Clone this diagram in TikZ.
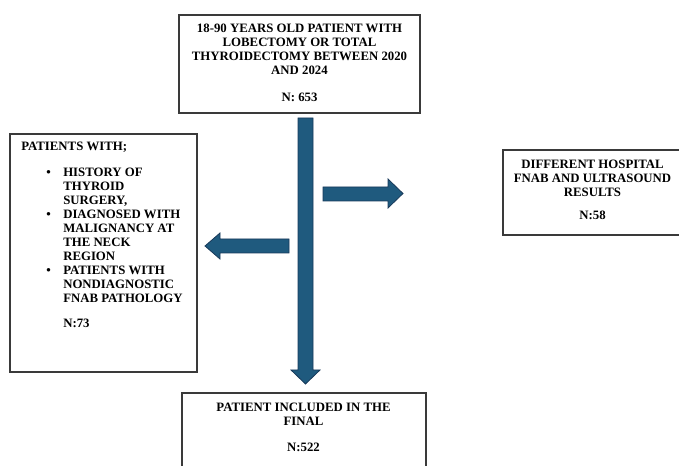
\documentclass[tikz,border=0pt]{standalone}
\usepackage{fontspec}
\setmainfont{Liberation Serif}
\usetikzlibrary{positioning}
\definecolor{arrowfill}{HTML}{1F5A7E}
\definecolor{arrowedge}{HTML}{18395A}
\definecolor{boxedge}{HTML}{3A3A3A}
\newcommand{\bitem}[1]{\hspace*{18.75pt}\makebox[12.75pt][l]{\textbullet}#1}
\newcommand{\bcont}[1]{\hspace*{31.5pt}#1}

\begin{document}
\begin{tikzpicture}[x=0.75pt,y=-0.75pt,
  box/.style={draw=boxedge, line width=0.8pt},
  txt/.style={font=\fontsize{9.6}{10.5}\selectfont\bfseries, inner sep=0pt},
  blockarrow/.style={draw=arrowedge, fill=arrowfill, line width=0.6pt, line join=miter}]
\clip (0,0) rectangle (679,466);
% boxes
\draw[box] (179,15) rectangle (420,113);
\draw[box] (10,134) rectangle (197,372);
\draw[box] (503,150) rectangle (690,235);
\draw[box] (182,393) rectangle (426,480);
% texts
\node[txt, align=center] (total) at (299.5,62.5) {18-90 YEARS OLD PATIENT WITH\\ LOBECTOMY OR TOTAL\\ THYROIDECTOMY BETWEEN 2020\\ AND 2024\\[9.75pt] N: 653};
\node[txt, align=left, anchor=west] (excluded) at (21,234.5) {PATIENTS WITH;\\[9pt]
  \bitem{HISTORY OF}\\ \bcont{THYROID}\\ \bcont{SURGERY,}\\
  \bitem{DIAGNOSED WITH}\\ \bcont{MALIGNANCY AT}\\ \bcont{THE NECK}\\ \bcont{REGION}\\
  \bitem{PATIENTS WITH}\\ \bcont{NONDIAGNOSTIC}\\ \bcont{FNAB PATHOLOGY}\\[8.25pt]
  \bcont{N:73}};
\node[txt, align=center] (other) at (592.5,189.5) {DIFFERENT HOSPITAL\\ FNAB AND ULTRASOUND\\ RESULTS\\[6.75pt] N:58};
\node[txt, align=center] (final) at (303.5,427) {PATIENT INCLUDED IN THE\\ FINAL\\[9pt] N:522};
% block arrows
\draw[blockarrow] (298,118) -- (313,118) -- (313,370) -- (320,370) -- (305.5,384) -- (291,370) -- (298,370) -- cycle;
\draw[blockarrow] (323,187) -- (388,187) -- (388,179) -- (403,193.5) -- (388,208) -- (388,201) -- (323,201) -- cycle;
\draw[blockarrow] (289,239) -- (220,239) -- (220,233) -- (205,246) -- (220,259) -- (220,253) -- (289,253) -- cycle;
\end{tikzpicture}
\end{document}
